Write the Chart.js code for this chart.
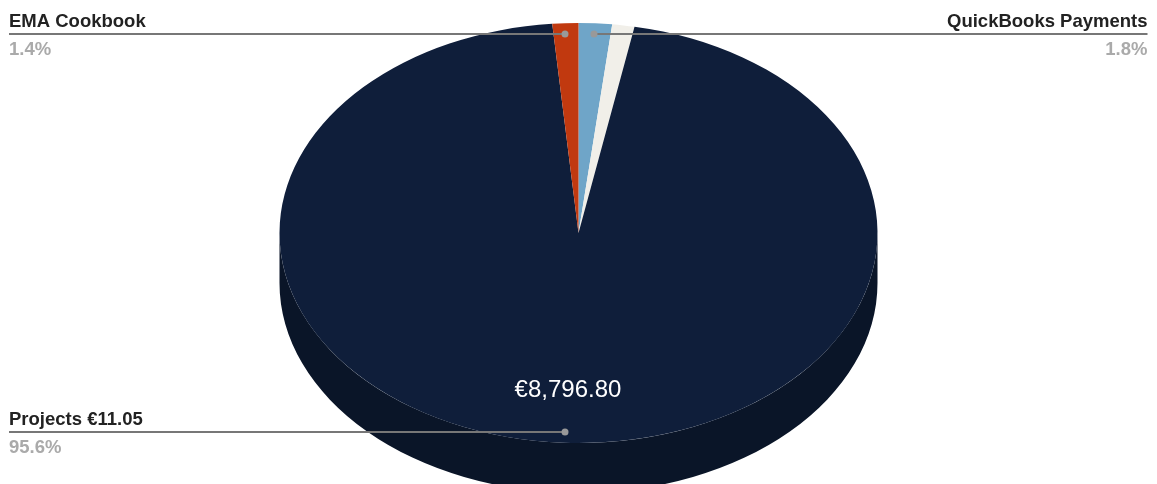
<!DOCTYPE html>
<html>
<head>
<meta charset="utf-8">
<style>
html,body{margin:0;padding:0;background:#fff;overflow:hidden}
#wrap{position:relative;width:1157px;height:484px}
canvas{display:block}
</style>
<script src="https://cdn.jsdelivr.net/npm/chart.js@4"></script>
</head>
<body>
<div id="wrap"><canvas id="c" width="1157" height="484"></canvas></div>
<script>
const categories = ["QuickBooks Payments", "Other", "Projects €11.05", "EMA Cookbook"];
const values = [165.6, 110.4, 8796.80, 128.9];
const percentLabels = ["1.8%", "", "95.6%", "1.4%"];
const sliceLabel = "€8,796.80";
const colors = ["#6fa5c8", "#f1efe9", "#0f1e3a", "#c1390f"];
const sideColors = ["#4d7390", "#a9a7a3", "#0a1528", "#87280a"];

const RX = 299, RY = 210, DEPTH = 50;

const callouts = [
  {i: 3, side: "left",  lineY: 34,  dotX: 565},
  {i: 0, side: "right", lineY: 34,  dotX: 594},
  {i: 2, side: "left",  lineY: 432, dotX: 565}
];

const pie3d = {
  id: "pie3d",
  beforeDatasetsDraw(chart) {
    const ctx = chart.ctx;
    const arcs = chart.getDatasetMeta(0).data;
    ctx.save();
    arcs.forEach((a, i) => {
      const s = Math.max(a.startAngle, 0), e = Math.min(a.endAngle, Math.PI);
      if (e <= s) return;
      ctx.beginPath();
      ctx.ellipse(a.x, a.y, RX, RY, 0, s, e, false);
      ctx.ellipse(a.x, a.y + DEPTH, RX, RY, 0, e, s, true);
      ctx.closePath();
      ctx.fillStyle = sideColors[i];
      ctx.fill();
    });
    ctx.restore();
    const a0 = arcs[0];
    ctx.save();
    ctx.translate(a0.x, a0.y);
    ctx.scale(1, RY / RX);
    ctx.translate(-a0.x, -a0.y);
  },
  afterDatasetsDraw(chart) {
    const ctx = chart.ctx;
    ctx.restore();
    const W = chart.width;
    const L = 9, R = W - 9.5;
    ctx.save();
    ctx.textBaseline = "alphabetic";
    callouts.forEach(c => {
      ctx.strokeStyle = "#777777";
      ctx.lineWidth = 2;
      ctx.beginPath();
      ctx.moveTo(c.side === "left" ? L : R, c.lineY);
      ctx.lineTo(c.dotX, c.lineY);
      ctx.stroke();
      ctx.fillStyle = "#999999";
      ctx.beginPath();
      ctx.arc(c.dotX, c.lineY, 3.5, 0, Math.PI * 2);
      ctx.fill();
      const x = c.side === "left" ? L : R;
      ctx.textAlign = c.side === "left" ? "left" : "right";
      ctx.font = "bold 18.5px 'Liberation Sans', Arial, sans-serif";
      ctx.fillStyle = "#222222";
      ctx.fillText(categories[c.i], x, c.lineY - 7);
      ctx.fillStyle = "#aaaaaa";
      ctx.fillText(percentLabels[c.i], x, c.lineY + 21);
    });
    ctx.font = "24px 'Liberation Sans', Arial, sans-serif";
    ctx.fillStyle = "#ffffff";
    ctx.textAlign = "center";
    ctx.fillText(sliceLabel, 568, 397);
    ctx.restore();
  }
};

new Chart(document.getElementById("c"), {
  type: "pie",
  data: {
    labels: categories,
    datasets: [{
      data: values,
      backgroundColor: colors,
      borderWidth: 0,
      clip: false
    }]
  },
  options: {
    responsive: false,
    animation: false,
    radius: RX,
    layout: {padding: {bottom: 18}},
    plugins: {legend: {display: false}, tooltip: {enabled: false}}
  },
  plugins: [pie3d]
});
</script>
</body>
</html>
